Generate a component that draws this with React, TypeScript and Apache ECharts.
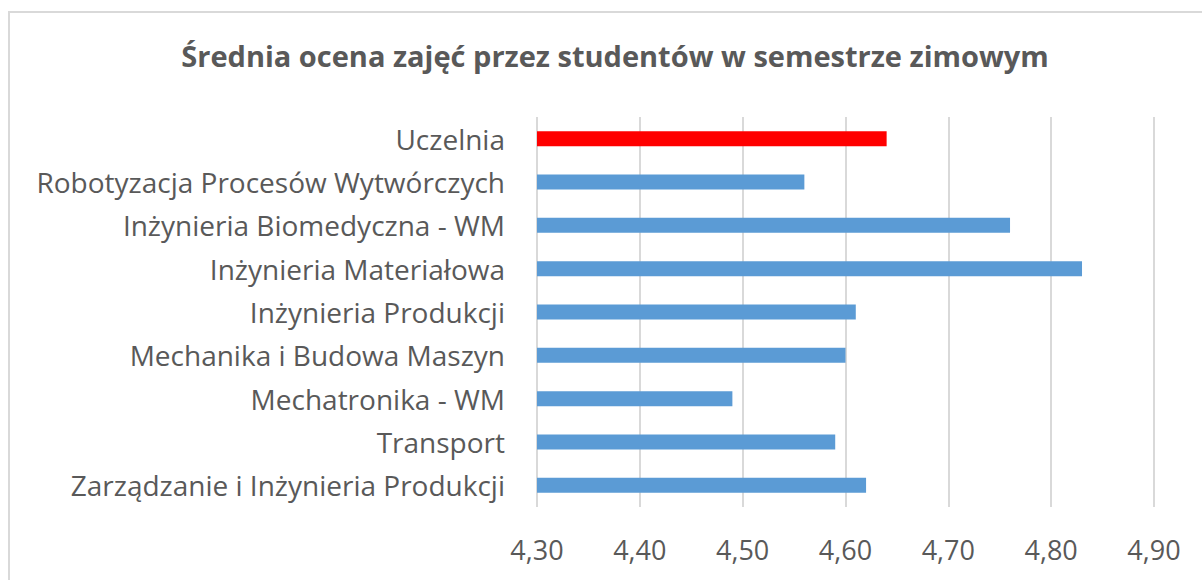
import React, { useEffect, useRef } from "react";
import * as echarts from "echarts";

const TITLE = "Średnia ocena zajęć przez studentów w semestrze zimowym";
const categories = [
  "Uczelnia",
  "Robotyzacja Procesów Wytwórczych",
  "Inżynieria Biomedyczna - WM",
  "Inżynieria Materiałowa",
  "Inżynieria Produkcji",
  "Mechanika i Budowa Maszyn",
  "Mechatronika - WM",
  "Transport",
  "Zarządzanie i Inżynieria Produkcji",
];
const values = [4.64, 4.56, 4.76, 4.83, 4.61, 4.6, 4.49, 4.59, 4.62];
const barColors = ["#FF0000", "#5B9BD5", "#5B9BD5", "#5B9BD5", "#5B9BD5", "#5B9BD5", "#5B9BD5", "#5B9BD5", "#5B9BD5"];
const X_MIN = 4.3;
const X_MAX = 4.9;
const X_STEP = 0.1;

const FONT = "'Open Sans', 'Noto Sans', sans-serif";

export default function App() {
  const ref = useRef<HTMLDivElement>(null);
  useEffect(() => {
    document.body.style.margin = "0";
    const chart = echarts.init(ref.current!, null, { renderer: "svg" });
    chart.setOption({
      animation: false,
      backgroundColor: "#ffffff",
      title: {
        text: TITLE,
        left: 610,
        top: 36,
        textAlign: "center",
        textStyle: { fontFamily: FONT, fontSize: 29, fontWeight: "bold", color: "#595959" },
      },
      graphic: [
        {
          type: "rect",
          shape: { x: 9, y: 12, width: 1400, height: 800 },
          style: { fill: "none", stroke: "#D9D9D9", lineWidth: 2 },
          silent: true,
          z: -1,
        },
      ],
      grid: { left: 537, right: 48, top: 117, bottom: 73 },
      xAxis: {
        type: "value",
        min: X_MIN,
        max: X_MAX,
        interval: X_STEP,
        axisLine: { show: false },
        axisTick: { show: false },
        splitLine: { show: true, lineStyle: { color: "#D9D9D9", width: 2 } },
        axisLabel: {
          margin: 29,
          fontFamily: FONT,
          fontSize: 27,
          color: "#595959",
          formatter: (v: number) => v.toFixed(2).replace(".", ","),
        },
      },
      yAxis: {
        type: "category",
        inverse: true,
        data: categories,
        axisLine: { show: false },
        axisTick: { show: false },
        axisLabel: { margin: 32, fontFamily: FONT, fontSize: 28, color: "#595959" },
      },
      series: [
        {
          type: "bar",
          data: values.map((v, i) => ({ value: v, itemStyle: { color: barColors[i] } })),
          barWidth: 15,
        },
      ],
    });
    return () => chart.dispose();
  }, []);
  return <div ref={ref} style={{ width: 1202, height: 580 }} />;
}
